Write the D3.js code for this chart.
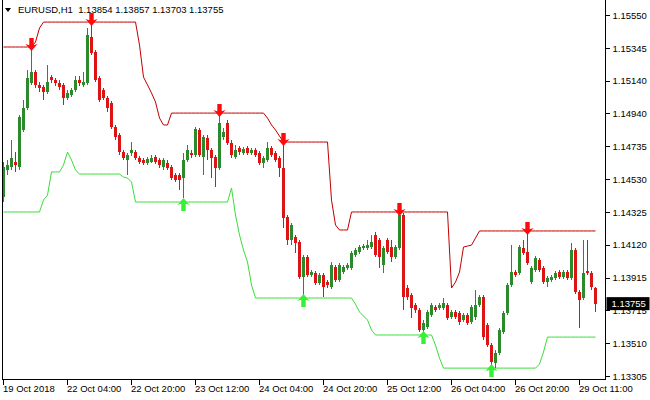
<!DOCTYPE html>
<html><head><meta charset="utf-8">
<script src="https://cdn.jsdelivr.net/npm/d3@7"></script>
<style>
html,body{margin:0;padding:0;background:#fff;}
svg{display:block;font-family:"Liberation Sans",Arial,sans-serif;}
</style></head>
<body>
<svg id="chart" width="650" height="400"></svg>
<script>
const symbol = "EURUSD,H1";
const timeTickIndex = [0,16,32,48,64,80,96,112,128,144];
const timeTickLabels = ["19 Oct 2018","22 Oct 04:00","22 Oct 20:00","23 Oct 12:00","24 Oct 04:00","24 Oct 20:00","25 Oct 12:00","26 Oct 04:00","26 Oct 20:00","29 Oct 11:00"];
const priceTicks = [1.15550,1.15345,1.15140,1.14940,1.14735,1.14530,1.14325,1.14120,1.13915,1.13715,1.13510,1.13305];

const open = [1.14418,1.14586,1.14605,1.14636,1.14605,1.14835,1.14972,1.15127,1.15195,1.15115,
1.15102,1.15071,1.15164,1.15146,1.15127,1.15115,1.15034,1.15052,1.15084,1.15146,
1.15115,1.15127,1.15413,1.15320,1.15158,1.15084,1.15034,1.15003,1.14853,1.14804,
1.14698,1.14648,1.14692,1.14698,1.14660,1.14648,1.14629,1.14636,1.14667,1.14648,
1.14605,1.14629,1.14605,1.14555,1.14555,1.14536,1.14648,1.14692,1.14679,1.14835,
1.14667,1.14785,1.14710,1.14667,1.14598,1.14791,1.14878,1.14754,1.14667,1.14723,
1.14692,1.14723,1.14692,1.14710,1.14692,1.14629,1.14648,1.14723,1.14692,1.14660,
1.14598,1.14294,1.14151,1.14169,1.14138,1.13920,1.14045,1.13933,1.13945,1.13883,
1.13933,1.13889,1.13858,1.13983,1.13902,1.13951,1.13976,1.13976,1.14057,1.14076,
1.14101,1.14101,1.14107,1.14182,1.14151,1.13995,1.14151,1.14107,1.14045,1.14101,
1.14306,1.13852,1.13808,1.13746,1.13715,1.13591,1.13609,1.13684,1.13734,1.13728,
1.13728,1.13746,1.13672,1.13703,1.13696,1.13653,1.13684,1.13640,1.13672,1.13746,
1.13796,1.13622,1.13497,1.13385,1.13448,1.13578,1.13696,1.13871,1.13951,1.13945,
1.14101,1.14076,1.13889,1.13964,1.14026,1.13976,1.13889,1.13902,1.13914,1.13951,
1.13920,1.13951,1.13914,1.14088,1.13827,1.13790,1.13958,1.13945,1.13854];

const high = [1.14636,1.14648,1.14773,1.14698,1.14928,1.15021,1.15208,1.15351,1.15208,1.15133,
1.15115,1.15239,1.15177,1.15158,1.15146,1.15127,1.15084,1.15096,1.15171,1.15171,
1.15195,1.15469,1.15506,1.15332,1.15171,1.15096,1.15046,1.15015,1.14866,1.14816,
1.14710,1.14692,1.14760,1.14710,1.14673,1.14660,1.14667,1.14679,1.14679,1.14660,
1.14660,1.14648,1.14617,1.14567,1.14567,1.14692,1.14741,1.14710,1.14853,1.14847,
1.14804,1.14804,1.14723,1.14679,1.14940,1.14847,1.14897,1.14773,1.14741,1.14735,
1.14729,1.14735,1.14723,1.14723,1.14704,1.14673,1.14760,1.14735,1.14704,1.14673,
1.14760,1.14306,1.14256,1.14182,1.14151,1.14057,1.14057,1.13964,1.13958,1.13945,
1.13945,1.13902,1.14014,1.13995,1.14007,1.13995,1.14007,1.14082,1.14101,1.14119,
1.14126,1.14151,1.14182,1.14200,1.14163,1.14113,1.14163,1.14151,1.14119,1.14325,
1.14318,1.13871,1.13821,1.13759,1.13728,1.13653,1.13715,1.13759,1.13746,1.13759,
1.13790,1.13759,1.13715,1.13715,1.13709,1.13696,1.13696,1.13746,1.13839,1.13808,
1.13808,1.13634,1.13510,1.13466,1.13603,1.13709,1.13883,1.14119,1.13964,1.14119,
1.14151,1.14205,1.13989,1.14051,1.14039,1.13989,1.13927,1.13933,1.13958,1.13964,
1.13964,1.13964,1.14132,1.14101,1.13839,1.14151,1.14151,1.13958,1.13857];

const low = [1.14387,1.14555,1.14586,1.14574,1.14586,1.14822,1.14959,1.15115,1.15096,1.15071,
1.15021,1.15059,1.15127,1.15108,1.15084,1.14990,1.15021,1.15040,1.15071,1.15108,
1.15102,1.15115,1.15301,1.15133,1.15009,1.15021,1.14947,1.14841,1.14773,1.14679,
1.14648,1.14555,1.14673,1.14648,1.14623,1.14617,1.14617,1.14629,1.14623,1.14598,
1.14586,1.14586,1.14524,1.14511,1.14462,1.14412,1.14636,1.14660,1.14667,1.14667,
1.14555,1.14648,1.14536,1.14480,1.14586,1.14773,1.14741,1.14660,1.14654,1.14679,
1.14679,1.14679,1.14679,1.14667,1.14617,1.14598,1.14636,1.14667,1.14636,1.14542,
1.14225,1.14119,1.14119,1.14070,1.13908,1.13790,1.13920,1.13920,1.13871,1.13871,
1.13796,1.13852,1.13846,1.13889,1.13889,1.13939,1.13964,1.13964,1.14045,1.14063,
1.14088,1.14088,1.14095,1.14045,1.13976,1.13945,1.14063,1.14014,1.14032,1.14088,
1.13715,1.13777,1.13665,1.13696,1.13578,1.13560,1.13597,1.13672,1.13703,1.13715,
1.13715,1.13653,1.13659,1.13659,1.13622,1.13640,1.13622,1.13628,1.13653,1.13734,
1.13528,1.13485,1.13361,1.13354,1.13435,1.13566,1.13684,1.13858,1.13920,1.13933,
1.14057,1.13995,1.13877,1.13951,1.13951,1.13877,1.13858,1.13889,1.13902,1.13908,
1.13908,1.13902,1.13902,1.13815,1.13603,1.13777,1.13933,1.13839,1.13703];

const close = [1.14605,1.14617,1.14661,1.14617,1.14916,1.14972,1.15158,1.15195,1.15115,1.15096,
1.15071,1.15133,1.15146,1.15127,1.15102,1.15034,1.15065,1.15084,1.15146,1.15127,
1.15133,1.15426,1.15314,1.15146,1.15021,1.15034,1.14972,1.14853,1.14791,1.14698,
1.14660,1.14679,1.14710,1.14660,1.14636,1.14629,1.14654,1.14660,1.14636,1.14617,
1.14648,1.14598,1.14536,1.14524,1.14524,1.14648,1.14710,1.14679,1.14841,1.14679,
1.14791,1.14710,1.14660,1.14598,1.14878,1.14822,1.14754,1.14679,1.14710,1.14698,
1.14717,1.14692,1.14710,1.14679,1.14629,1.14660,1.14723,1.14679,1.14648,1.14598,
1.14287,1.14151,1.14244,1.14132,1.13920,1.14045,1.13933,1.13951,1.13883,1.13933,
1.13858,1.13871,1.13995,1.13902,1.13995,1.13983,1.13995,1.14070,1.14088,1.14107,
1.14113,1.14119,1.14138,1.14057,1.14045,1.14101,1.14076,1.14045,1.14107,1.14306,
1.13796,1.13796,1.13728,1.13715,1.13591,1.13634,1.13703,1.13746,1.13715,1.13746,
1.13759,1.13665,1.13703,1.13672,1.13640,1.13684,1.13634,1.13734,1.13746,1.13796,
1.13547,1.13497,1.13392,1.13448,1.13591,1.13696,1.13871,1.13951,1.13933,1.14107,
1.14070,1.14007,1.13976,1.14039,1.13964,1.13889,1.13914,1.13920,1.13945,1.13920,
1.13951,1.13914,1.14088,1.13827,1.13777,1.13945,1.13945,1.13858,1.13755];

const upper = [1.15351,1.15351,1.15351,1.15351,1.15351,1.15351,1.15351,1.15351,1.15382,1.15469,
1.15506,1.15506,1.15506,1.15506,1.15506,1.15506,1.15506,1.15506,1.15506,1.15506,
1.15506,1.15506,1.15506,1.15506,1.15506,1.15506,1.15506,1.15506,1.15506,1.15506,
1.15506,1.15506,1.15506,1.15506,1.15363,1.15164,1.15115,1.15065,1.15009,1.14909,
1.14866,1.14866,1.14940,1.14940,1.14940,1.14940,1.14940,1.14940,1.14940,1.14940,
1.14940,1.14940,1.14940,1.14940,1.14940,1.14940,1.14940,1.14940,1.14940,1.14940,
1.14940,1.14940,1.14940,1.14940,1.14940,1.14940,1.14909,1.14866,1.14835,1.14797,
1.14760,1.14760,1.14760,1.14760,1.14760,1.14760,1.14760,1.14760,1.14760,1.14760,
1.14760,1.14760,1.14399,1.14244,1.14213,1.14213,1.14213,1.14325,1.14325,1.14325,
1.14325,1.14325,1.14325,1.14325,1.14325,1.14325,1.14325,1.14325,1.14325,1.14325,
1.14325,1.14325,1.14325,1.14325,1.14325,1.14325,1.14325,1.14325,1.14325,1.14325,
1.14325,1.14325,1.13852,1.13889,1.13951,1.14107,1.14113,1.14119,1.14163,1.14207,
1.14207,1.14207,1.14207,1.14207,1.14207,1.14207,1.14207,1.14207,1.14207,1.14207,
1.14207,1.14207,1.14207,1.14207,1.14207,1.14207,1.14207,1.14207,1.14207,1.14207,
1.14207,1.14207,1.14207,1.14207,1.14207,1.14207,1.14207,1.14207,1.14207];

const lower = [1.14325,1.14325,1.14325,1.14325,1.14325,1.14325,1.14325,1.14325,1.14325,1.14325,
1.14399,1.14430,1.14574,1.14574,1.14574,1.14617,1.14698,1.14648,1.14586,1.14561,
1.14561,1.14561,1.14561,1.14561,1.14561,1.14561,1.14561,1.14561,1.14561,1.14561,
1.14542,1.14536,1.14511,1.14387,1.14387,1.14387,1.14387,1.14387,1.14387,1.14387,
1.14387,1.14387,1.14387,1.14387,1.14387,1.14387,1.14387,1.14387,1.14387,1.14387,
1.14387,1.14387,1.14387,1.14387,1.14387,1.14387,1.14387,1.14474,1.14306,1.14182,
1.14088,1.14014,1.13871,1.13790,1.13790,1.13790,1.13790,1.13790,1.13790,1.13790,
1.13790,1.13790,1.13790,1.13790,1.13790,1.13790,1.13790,1.13790,1.13790,1.13790,
1.13790,1.13790,1.13790,1.13790,1.13790,1.13790,1.13790,1.13790,1.13752,1.13703,
1.13678,1.13653,1.13591,1.13560,1.13560,1.13560,1.13560,1.13560,1.13560,1.13560,
1.13560,1.13560,1.13560,1.13560,1.13560,1.13560,1.13560,1.13560,1.13497,1.13416,
1.13354,1.13354,1.13354,1.13354,1.13354,1.13354,1.13354,1.13354,1.13354,1.13354,
1.13354,1.13354,1.13354,1.13354,1.13354,1.13354,1.13354,1.13354,1.13354,1.13354,
1.13354,1.13354,1.13354,1.13354,1.13379,1.13454,1.13547,1.13547,1.13547,1.13547,
1.13547,1.13547,1.13547,1.13547,1.13547,1.13547,1.13547,1.13547,1.13547];

const sellSignals = [7,22,54,70,99,131];
const buySignals = [45,75,105,122];

const colors = {bull:"#2b8a2b", bear:"#dc1414", upper:"#c00000", lower:"#3cdc3c", sell:"#ff0a0a", buy:"#35f035"};

const n = open.length;
const svg = d3.select("#chart");
const plot = {left:2.5, right:605.5, bottom:379.5};

const x = d3.scaleBand().domain(d3.range(n)).range([1, 1 + 4*n]);
const xc = i => x(i) + x.bandwidth()/2;
const y = d3.scaleLinear().domain([1.13305, 1.15550]).range([376, 15]);

const g = svg.append("g");

// lines
const lineGen = d3.line().x((d,i) => xc(i) + 0.5).y(d => y(d));
g.append("path").datum(upper).attr("d", lineGen).attr("fill","none").attr("stroke",colors.upper).attr("stroke-width",1);
g.append("path").datum(lower).attr("d", lineGen).attr("fill","none").attr("stroke",colors.lower).attr("stroke-width",1);

// candles
const candles = g.append("g").attr("shape-rendering","crispEdges");
d3.range(n).forEach(i => {
  const bull = close[i] >= open[i];
  const col = bull ? colors.bull : colors.bear;
  const cx = xc(i);
  candles.append("line").attr("x1",cx+0.5).attr("x2",cx+0.5)
    .attr("y1",y(high[i])).attr("y2",y(low[i])).attr("stroke",col).attr("stroke-width",1);
  const top = y(Math.max(open[i],close[i])), bot = y(Math.min(open[i],close[i]));
  candles.append("rect").attr("x",cx-1).attr("width",3)
    .attr("y",top).attr("height",Math.max(1,bot-top)).attr("fill",col);
});

// arrows
const downArrow = "M0,0 L-6,-7 L-2.2,-5.8 L-2.2,-13 L2.2,-13 L2.2,-5.8 L6,-7 Z";
const upArrow = "M0,0 L-6,7 L-2.2,5.8 L-2.2,13 L2.2,13 L2.2,5.8 L6,7 Z";
sellSignals.forEach(i => {
  g.append("path").attr("d",downArrow).attr("fill",colors.sell)
    .attr("transform",`translate(${xc(i)+0.5},${y(upper[i])+4})`);
});
buySignals.forEach(i => {
  g.append("path").attr("d",upArrow).attr("fill",colors.buy)
    .attr("transform",`translate(${xc(i)+0.5},${y(lower[i])-4})`);
});

// frame
const frame = svg.append("g").attr("stroke","#000").attr("stroke-width",1).attr("shape-rendering","crispEdges");
frame.append("line").attr("x1",plot.left).attr("x2",plot.left).attr("y1",0).attr("y2",plot.bottom);
frame.append("line").attr("x1",plot.right).attr("x2",plot.right).attr("y1",0).attr("y2",plot.bottom);
frame.append("line").attr("x1",plot.left).attr("x2",plot.right).attr("y1",plot.bottom).attr("y2",plot.bottom);

// price axis
const yAxis = d3.axisRight(y).tickValues(priceTicks).tickFormat(d3.format(".5f")).tickSize(4).tickSizeOuter(0).tickPadding(3);
const ya = svg.append("g").attr("transform",`translate(${plot.right},0)`).call(yAxis);
ya.select(".domain").remove();
ya.selectAll("line").attr("stroke","#000").attr("shape-rendering","crispEdges");
ya.selectAll("text").attr("font-size","9.5px").attr("fill","#000").attr("font-family","Liberation Sans, Arial, sans-serif");

// current price tag
const last = close[n-1];
svg.append("rect").attr("x",plot.right+1).attr("y",y(last)-6.5).attr("width",43).attr("height",13).attr("fill","#000");
svg.append("text").attr("x",plot.right+6).attr("y",y(last)+3.5).attr("fill","#fff")
  .attr("font-size","9.5px").text(d3.format(".5f")(last));

// time axis
const ta = svg.append("g");
timeTickIndex.forEach((idx,k) => {
  const tx = xc(idx);
  ta.append("line").attr("x1",tx+0.5).attr("x2",tx+0.5).attr("y1",plot.bottom).attr("y2",plot.bottom+5)
    .attr("stroke","#000").attr("shape-rendering","crispEdges");
  ta.append("text").attr("x",tx).attr("y",392).attr("font-size","9.5px").attr("fill","#000").text(timeTickLabels[k]);
});

// header
svg.append("path").attr("d","M5,8 L11,8 L8,12 Z").attr("fill","#000");
const fmt = d3.format(".5f");
svg.append("text").attr("x",18).attr("y",13).attr("font-size","9.5px").attr("fill","#000")
  .attr("xml:space","preserve").style("white-space","pre")
  .text(`${symbol}  ${fmt(open[n-1])} ${fmt(high[n-1])} ${fmt(low[n-1])} ${fmt(close[n-1])}`);
</script>
</body></html>
